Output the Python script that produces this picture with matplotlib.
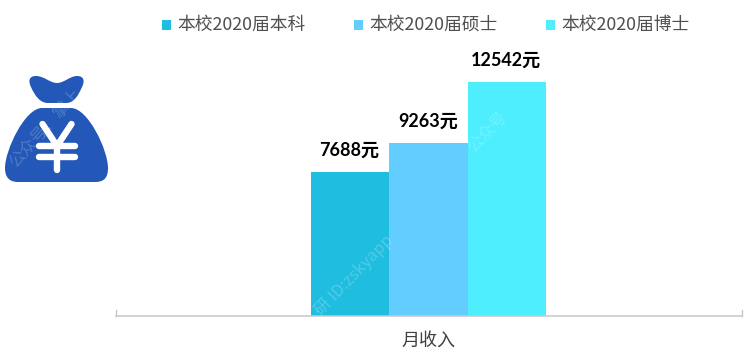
import matplotlib
matplotlib.use("Agg")
import matplotlib.pyplot as plt
from matplotlib.path import Path
from matplotlib.patches import PathPatch

plt.rcParams['font.family'] = ['Noto Sans CJK SC', 'DejaVu Sans']

W, H = 750, 354

category = '月收入'
series = ['本校2020届本科', '本校2020届硕士', '本校2020届博士']
values = [7688, 9263, 12542]
value_labels = ['7688元', '9263元', '12542元']
colors = ['#1fbde0', '#63cdff', '#4eeeff']

fig = plt.figure(figsize=(W / 100, H / 100), dpi=100, facecolor='white')

# chart area: axis line runs 116..742 px, baseline at y=315 px
ax = fig.add_axes([116 / W, (H - 315.5) / H, 626 / W, 260 / H])
bar_w = 78.5 / 626
offset = -0.6 / 626
for i, (s, v, c) in enumerate(zip(series, values, colors)):
    x = (i - 1) * bar_w + offset
    ax.bar(x, v, width=bar_w, color=c, label=s, linewidth=0, zorder=2)
    ax.text(x - 0.001, v + 720, value_labels[i], ha='center', va='bottom', fontsize=13,
            fontweight='bold', color='black', family=['Lato', 'Noto Sans CJK SC'])

ax.set_xlim(-0.5, 0.5)
ax.set_ylim(0, 260 * 53.7)
ax.set_yticks([])
ax.set_xticks([])
for side in ['top', 'left', 'right']:
    ax.spines[side].set_visible(False)
ax.spines['bottom'].set_color('#c8c8c8')
ax.spines['bottom'].set_linewidth(1.1)
# small upward end ticks
ax.plot([-0.4995, -0.4995], [0, 270], color='#c8c8c8', lw=1, clip_on=False)
ax.plot([0.4995, 0.4995], [0, 270], color='#c8c8c8', lw=1, clip_on=False)

fig.text(428 / W, 1 - 341 / H, category, ha='center', va='center', fontsize=13, color='#404040')

# legend placed by hand so it lines up with the reference
leg_x = [162, 354, 546]
for lx, s, c in zip(leg_x, series, colors):
    fig.patches.append(plt.Rectangle((lx / W, 1 - 29.5 / H), 9 / W, 9 / H, transform=fig.transFigure,
                                     facecolor=c, edgecolor='none'))
    fig.text((lx + 15) / W, 1 - 24.5 / H, s, ha='left', va='center', fontsize=12.8, color='#505050')

# money bag icon in pixel coordinates
icon = fig.add_axes([0, 0, 1, 1], facecolor='none')
icon.set_xlim(0, W)
icon.set_ylim(H, 0)
icon.axis('off')
blue = '#2358b8'
M, L, C, Z = Path.MOVETO, Path.LINETO, Path.CURVE4, Path.CLOSEPOLY

top = [(36, 76), (44, 76), (50, 83), (57, 83), (64, 83), (70, 76), (77, 76),
       (84, 76), (85, 81), (82, 87), (78, 96), (74, 103), (66, 103),
       (48, 103), (40, 103), (35, 96), (31, 87), (28, 81), (29, 76), (36, 76), (36, 76)]
top_c = [M, C, C, C, C, C, C, C, C, C, C, C, C, L, C, C, C, C, C, C, Z]
icon.add_patch(PathPatch(Path(top, top_c), facecolor=blue, edgecolor='none'))

body = [(42, 108), (25, 108), (5, 150), (5, 168), (5, 178), (10, 182), (18, 182), (95, 182),
        (104, 182), (108, 178), (108, 168), (108, 150), (88, 108), (71, 108), (42, 108), (42, 108)]
body_c = [M, C, C, C, C, C, C, L, C, C, C, C, C, C, L, Z]
icon.add_patch(PathPatch(Path(body, body_c), facecolor=blue, edgecolor='none'))

for xs, ys in [([42.5, 57], [124, 146]), ([71.5, 57], [124, 146]), ([57, 57], [146, 170]),
               ([39, 75], [146, 146]), ([39, 75], [157, 157])]:
    icon.plot(xs, ys, color='white', lw=4.6, solid_capstyle='round')

# faint watermarks
icon.text(354, 275, '研 ID:zskyapp', rotation=46, ha='center', va='center', fontsize=12,
          color='white', alpha=0.22)
icon.text(45, 128, '公众号：掌上', rotation=48, ha='center', va='center', fontsize=12,
          color='white', alpha=0.2)
icon.text(487, 132, '公众号', rotation=46, ha='center', va='center', fontsize=12,
          color='white', alpha=0.2)

fig.savefig('out.png', dpi=100, facecolor='white')
